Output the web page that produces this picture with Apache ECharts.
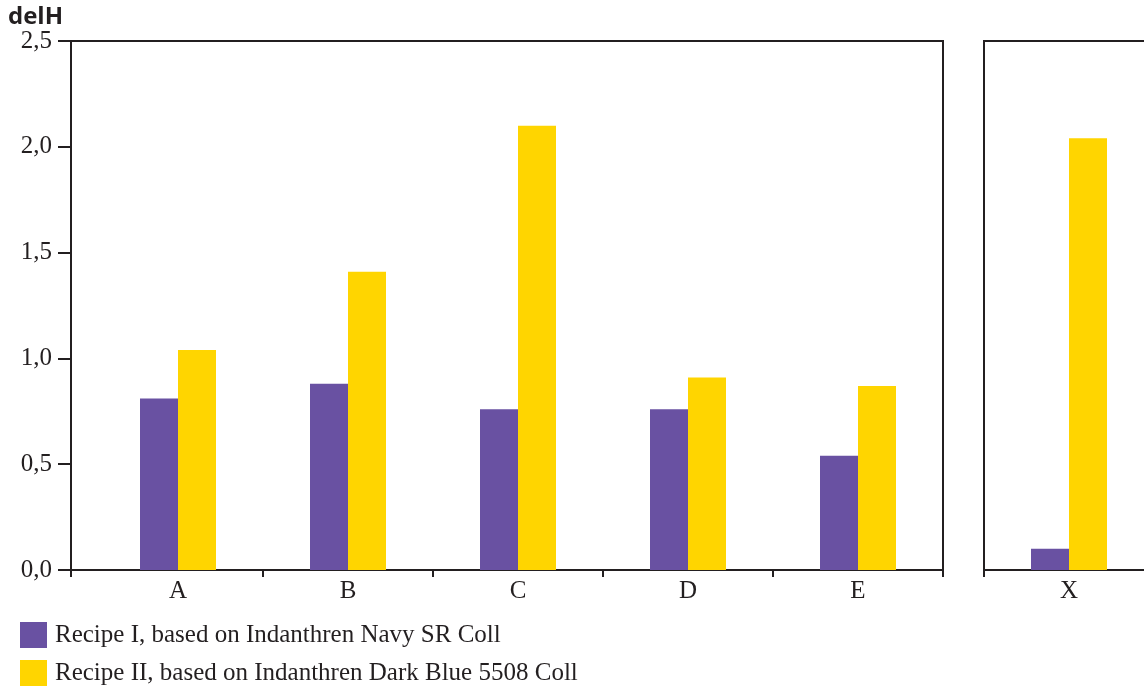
<!DOCTYPE html>
<html>
<head>
<meta charset="utf-8">
<script src="https://cdn.jsdelivr.net/npm/echarts@6/dist/echarts.min.js"></script>
<style>html,body{margin:0;padding:0;background:#fff}#c{width:1144px;height:687px}</style>
</head>
<body>
<div id="c"></div>
<script>
var categoriesMain = ['A', 'B', 'C', 'D', 'E'];
var categoriesSide = ['X'];
var recipe1Main = [0.81, 0.88, 0.76, 0.76, 0.54];
var recipe2Main = [1.04, 1.41, 2.10, 0.91, 0.87];
var recipe1Side = [0.10];
var recipe2Side = [2.04];
var yTickLabels = ['0,0', '0,5', '1,0', '1,5', '2,0', '2,5'];
var seriesNames = ['Recipe I, based on Indanthren Navy SR Coll', 'Recipe II, based on Indanthren Dark Blue 5508 Coll'];

var INK = '#231f20';
var PURPLE = '#6951a2';
var YELLOW = '#ffd500';
var SERIF = '"Liberation Serif", "DejaVu Serif", serif';

var chart = echarts.init(document.getElementById('c'), null, {renderer: 'canvas'});
var yBase = {type: 'value', min: 0, max: 2.5, interval: 0.5, splitLine: {show: false}};
chart.setOption({
  animation: false,
  title: {text: 'delH', left: 8, top: 5, padding: 0, textStyle: {fontFamily: '"Open Sans", "Liberation Sans", sans-serif', fontWeight: 'bold', fontSize: 24, color: INK}},
  legend: {
    orient: 'vertical', left: 20, top: 622, padding: 0, itemWidth: 27, itemHeight: 26, itemGap: 12,
    icon: 'rect', data: seriesNames,
    textStyle: {fontFamily: SERIF, fontSize: 25, color: INK, padding: [0, 0, 0, 3]}
  },
  grid: [
    {left: 71, top: 41, width: 872, height: 529, show: true, borderColor: INK, borderWidth: 2, backgroundColor: 'transparent', outerBoundsMode: 'none'},
    {left: 93, top: 41, width: 850, height: 529, outerBoundsMode: 'none'},
    {left: 984, top: 41, width: 170, height: 529, show: true, borderColor: INK, borderWidth: 2, backgroundColor: 'transparent', outerBoundsMode: 'none'}
  ],
  xAxis: [
    {gridIndex: 0, type: 'value', min: 0, max: 1, interval: 1, axisLine: {show: false}, axisLabel: {show: false}, splitLine: {show: false},
     axisTick: {show: true, length: 7, lineStyle: {color: INK, width: 2}}},
    {gridIndex: 1, type: 'category', data: categoriesMain, axisLine: {show: false},
     axisTick: {show: true, length: 7, interval: function (i) { return i !== 0; }, lineStyle: {color: INK, width: 2}},
     axisLabel: {fontFamily: SERIF, fontSize: 25, color: INK, margin: 9}},
    {gridIndex: 2, type: 'category', data: categoriesSide, axisLine: {show: false},
     axisTick: {show: true, length: 7, lineStyle: {color: INK, width: 2}},
     axisLabel: {fontFamily: SERIF, fontSize: 25, color: INK, margin: 9}}
  ],
  yAxis: [
    Object.assign({gridIndex: 0, axisLine: {show: true, lineStyle: {color: INK, width: 2}},
      axisTick: {show: true, length: 13, lineStyle: {color: INK, width: 2}},
      axisLabel: {fontFamily: SERIF, fontSize: 25, color: INK, margin: 19,
        formatter: function (v) { return yTickLabels[Math.round(v / 0.5)]; }}}, yBase),
    Object.assign({gridIndex: 1, show: false}, yBase),
    Object.assign({gridIndex: 2, show: false}, yBase)
  ],
  series: [
    {name: seriesNames[0], type: 'bar', xAxisIndex: 1, yAxisIndex: 1, data: recipe1Main, barWidth: 38, barGap: '0%', itemStyle: {color: PURPLE}},
    {name: seriesNames[1], type: 'bar', xAxisIndex: 1, yAxisIndex: 1, data: recipe2Main, barWidth: 38, barGap: '0%', itemStyle: {color: YELLOW}},
    {name: seriesNames[0], type: 'bar', xAxisIndex: 2, yAxisIndex: 2, data: recipe1Side, barWidth: 38, barGap: '0%', itemStyle: {color: PURPLE}},
    {name: seriesNames[1], type: 'bar', xAxisIndex: 2, yAxisIndex: 2, data: recipe2Side, barWidth: 38, barGap: '0%', itemStyle: {color: YELLOW}}
  ]
});
</script>
</body>
</html>
